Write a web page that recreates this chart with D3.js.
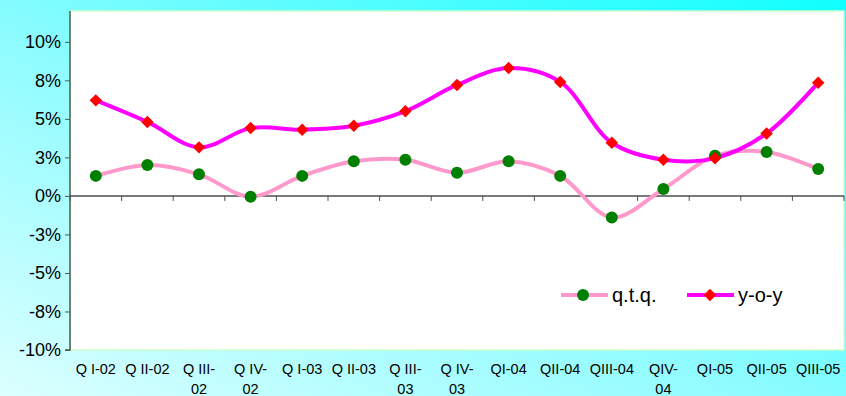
<!DOCTYPE html>
<html>
<head>
<meta charset="utf-8">
<script src="https://cdn.jsdelivr.net/npm/d3@7"></script>
<style>
  html, body { margin: 0; padding: 0; }
  svg { display: block; font-family: "Liberation Sans", Arial, sans-serif; }
</style>
</head>
<body>
<svg id="chart" width="846" height="396"></svg>
<script>
// Quarterly growth rates, percent
const quarters = ["Q I-02", "Q II-02", "Q III-02", "Q IV-02", "Q I-03", "Q II-03", "Q III-03",
  "Q IV-03", "QI-04", "QII-04", "QIII-04", "QIV-04", "QI-05", "QII-05", "QIII-05"];
const qtq = [1.3, 2.0, 1.4, -0.05, 1.3, 2.25, 2.35, 1.5, 2.25, 1.3, -1.4, 0.45, 2.6, 2.85, 1.75];
const yoy = [6.2, 4.8, 3.15, 4.4, 4.3, 4.55, 5.5, 7.2, 8.3, 7.4, 3.45, 2.35, 2.45, 4.05, 7.35];
const yTickValues = [-10, -7.5, -5, -2.5, 0, 2.5, 5, 7.5, 10];
const yTickLabels = ["-10%", "-8%", "-5%", "-3%", "0%", "3%", "5%", "8%", "10%"];

const W = 846, H = 396;
const m = { left: 70, right: 2, top: 11, bottom: 46 };
const svg = d3.select("#chart");

// Background gradient
const defs = svg.append("defs");
const grad = defs.append("linearGradient").attr("id", "bg")
  .attr("x1", "0%").attr("y1", "100%").attr("x2", "100%").attr("y2", "0%");
grad.append("stop").attr("offset", "0%").attr("stop-color", "#dcffff");
grad.append("stop").attr("offset", "45%").attr("stop-color", "#8ffcff");
grad.append("stop").attr("offset", "100%").attr("stop-color", "#10ffff");
svg.append("rect").attr("width", W).attr("height", H).attr("fill", "url(#bg)");

const x = d3.scaleBand().domain(quarters).range([m.left, W - m.right]);
const y = d3.scaleLinear().domain([-10, 12]).range([H - m.bottom, m.top]);

// Plot area
svg.append("rect")
  .attr("x", m.left).attr("y", m.top)
  .attr("width", W - m.right - m.left).attr("height", H - m.bottom - m.top)
  .attr("fill", "#ffffff").attr("stroke", "#ccffcc").attr("stroke-width", 1.5);

// Y axis
const yAxis = d3.axisLeft(y).tickValues(yTickValues)
  .tickFormat((d, i) => yTickLabels[i]).tickSize(5).tickPadding(4);
const gy = svg.append("g").attr("transform", `translate(${m.left},0)`).call(yAxis);
gy.select(".domain").attr("stroke", "#4d5a4d").attr("stroke-width", 1.5)
  .attr("d", `M-5,${y(-10)}H0V${m.top}`);
gy.selectAll(".tick line").attr("stroke", "#4d5a4d");
gy.selectAll("text").attr("font-size", 18).attr("fill", "#000");

// X axis along zero line
const boundaries = quarters.map(q => x(q)).concat([x.range()[1]]);
const gx = svg.append("g");
gx.append("line").attr("x1", m.left).attr("x2", W - m.right)
  .attr("y1", y(0)).attr("y2", y(0)).attr("stroke", "#4d4d4d").attr("stroke-width", 1.5);
gx.selectAll("line.tk").data(boundaries).join("line").attr("class", "tk")
  .attr("x1", d => d).attr("x2", d => d)
  .attr("y1", y(0)).attr("y2", y(0) + 5).attr("stroke", "#4d4d4d");

// Category labels, long ones wrapped onto two lines
const wrapped = {
  "Q III-02": ["Q III-", "02"], "Q IV-02": ["Q IV-", "02"],
  "Q III-03": ["Q III-", "03"], "Q IV-03": ["Q IV-", "03"], "QIV-04": ["QIV-", "04"]
};
const lbl = svg.append("g").selectAll("text").data(quarters).join("text")
  .attr("x", d => x(d) + x.bandwidth() / 2)
  .attr("y", 374)
  .attr("text-anchor", "middle").attr("font-size", 14.5).attr("fill", "#000");
lbl.each(function(d) {
  const lines = wrapped[d] || [d];
  const t = d3.select(this);
  lines.forEach((s, i) => t.append("tspan")
    .attr("x", x(d) + x.bandwidth() / 2).attr("dy", i === 0 ? 0 : 20).text(s));
});

const cx = d => x(d) + x.bandwidth() / 2;
const line = d3.line().curve(d3.curveCatmullRom.alpha(0.5))
  .x((d, i) => cx(quarters[i])).y(d => y(d));

// q.t.q. series
svg.append("path").datum(qtq).attr("d", line)
  .attr("fill", "none").attr("stroke", "#ff99cc").attr("stroke-width", 4);
// y-o-y series
svg.append("path").datum(yoy).attr("d", line)
  .attr("fill", "none").attr("stroke", "#ff00ff").attr("stroke-width", 4);

svg.append("g").selectAll("circle").data(qtq).join("circle")
  .attr("cx", (d, i) => cx(quarters[i])).attr("cy", d => y(d))
  .attr("r", 6).attr("fill", "#008000");

const diamond = d3.symbol().type(d3.symbolSquare).size(78);
svg.append("g").selectAll("path").data(yoy).join("path")
  .attr("d", diamond)
  .attr("transform", (d, i) => `translate(${cx(quarters[i])},${y(d)}) rotate(45)`)
  .attr("fill", "#ff0000");

// Legend
const lg = svg.append("g").attr("transform", "translate(0,295)");
lg.append("line").attr("x1", 561).attr("x2", 608).attr("y1", 0).attr("y2", 0)
  .attr("stroke", "#ff99cc").attr("stroke-width", 4);
lg.append("circle").attr("cx", 583).attr("cy", 0).attr("r", 6).attr("fill", "#008000");
lg.append("text").attr("x", 612).attr("y", 7).attr("font-size", 20).text("q.t.q.");
lg.append("line").attr("x1", 687).attr("x2", 734).attr("y1", 0).attr("y2", 0)
  .attr("stroke", "#ff00ff").attr("stroke-width", 4);
lg.append("path").attr("d", diamond).attr("transform", "translate(710,0) rotate(45)")
  .attr("fill", "#ff0000");
lg.append("text").attr("x", 738).attr("y", 7).attr("font-size", 20).text("y-o-y");
</script>
</body>
</html>
